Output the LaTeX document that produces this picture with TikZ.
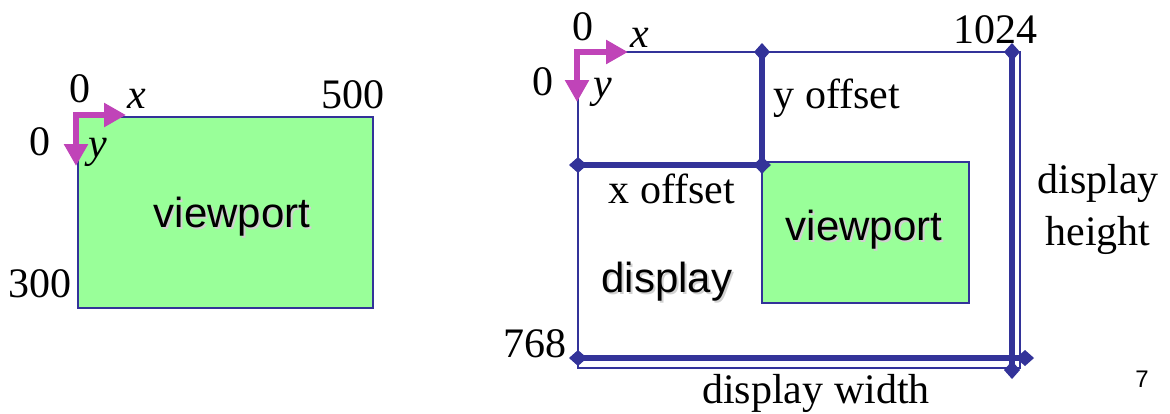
\documentclass[tikz,border=0pt]{standalone}
\usepackage{fontspec}
\setmainfont{Liberation Serif}
\setsansfont{Liberation Sans}
\usepackage{xcolor}
\usepackage{tikz}
\usetikzlibrary{
  arrows.meta,
  positioning
}

\definecolor{vpgreen}{HTML}{99FF99}
\definecolor{edgeblue}{HTML}{333399}
\definecolor{axismag}{HTML}{C044B8}

\newcommand{\shadowtxt}[1]{\makebox[0pt][l]{\hspace{1pt}\raisebox{-1pt}{\textcolor{black!18}{#1}}}#1}

\begin{document}
\begin{tikzpicture}[
    x=0.5pt, y=-0.5pt,
    lbl/.style={anchor=base, inner sep=0pt, font=\fontsize{21}{26}\selectfont},
    sflbl/.style={anchor=base, inner sep=0pt, font=\sffamily\fontsize{21}{26}\selectfont},
    frame/.style={draw=edgeblue, line width=1.3pt},
    vport/.style={draw=edgeblue, line width=1.3pt, fill=vpgreen},
    dimline/.style={draw=edgeblue, line width=2.8pt,
      {Diamond[length=9pt,width=8pt]}-{Diamond[length=9pt,width=8pt]},
      shorten <=-4.5pt, shorten >=-4.5pt},
    axis/.style={draw=axismag, line width=3pt,
      {Triangle[length=11pt,width=11.5pt]}-{Triangle[length=11pt,width=11.5pt]}}
    ]
    \useasboundingbox (0,0) rectangle (1170,413);
    
    % viewport sozinho
    \draw[vport] (78,117) rectangle (373,308);
    \node[sflbl] (vpA) at (232,227) {\shadowtxt{viewport}};
    
    \coordinate (oA) at (76,115);
    \coordinate (xA) at (126,115);
    \coordinate (yA) at (76,166);
    \draw[axis] (xA) -- (oA) -- (yA);
    
    \node[lbl] (zxA) at (80,102) {0};
    \node[lbl] (xlA) at (137,108) {\textit{x}};
    \node[lbl] (wA) at (353,108) {500};
    \node[lbl] (zyA) at (40,155) {0};
    \node[lbl] (ylA) at (98,157) {\textit{y}};
    \node[lbl] (hA) at (40,297) {300};
    
    % display
    \coordinate (dTL) at (578,52);
    \coordinate (dBR) at (1020,368);
    \draw[frame] (dTL) rectangle (dBR);
    
    % viewport dentro do display
    \draw[vport] (762,162) rectangle (969,303);
    
    % offsets
    \coordinate (yoT) at (762,52);
    \coordinate (yoB) at (762,165);
    \coordinate (xoL) at (578,165);
    \draw[dimline] (yoT) -- (yoB);
    \draw[dimline] (xoL) -- (yoB);
    
    % largura e altura
    \coordinate (dwL) at (578,358);
    \coordinate (dwR) at (1025,358);
    \coordinate (dhT) at (1012,52);
    \coordinate (dhB) at (1012,370);
    \draw[dimline] (dwL) -- (dwR);
    \draw[dimline] (dhT) -- (dhB);
    
    \coordinate (oB) at (577,52);
    \coordinate (xB) at (628,52);
    \coordinate (yB) at (577,102);
    \draw[axis] (xB) -- (oB) -- (yB);
    
    % rotulos
    \node[lbl] (zxB) at (583,40) {0};
    \node[lbl] (xlB) at (640,47) {\textit{x}};
    \node[lbl] (wB) at (995,43) {1024};
    \node[lbl] (zyB) at (543,95) {0};
    \node[lbl] (ylB) at (603,97) {\textit{y}};
    \node[lbl] (hB) at (535,357) {768};
    \node[lbl] (yoff) at (837,108) {y offset};
    \node[lbl] (xoff) at (672,203) {x offset};
    \node[sflbl] (dispB) at (667,292) {\shadowtxt{display}};
    \node[sflbl] (vpB) at (864,240) {\shadowtxt{viewport}};
    \node[lbl, anchor=center, align=center] (dh) at (1098,209)
    {display\\height};
    \node[lbl] (dw) at (816,403) {display width};
    \node[anchor=base, inner sep=0pt, font=\sffamily\fontsize{12}{14}\selectfont]
    (pg) at (1142,387) {7};
    
\end{tikzpicture}
\end{document}
